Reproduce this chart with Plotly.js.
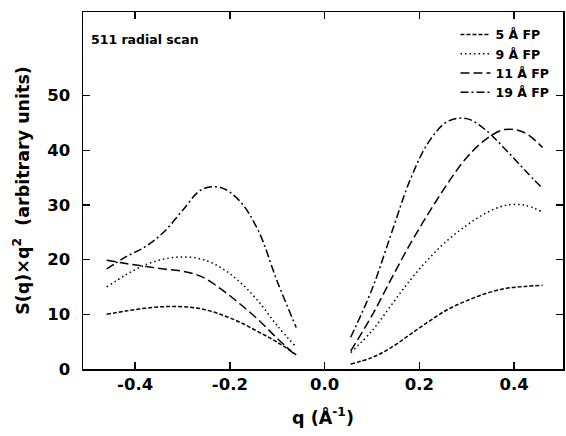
<!DOCTYPE html>
<html>
<head>
<meta charset="utf-8">
<script src="https://cdn.plot.ly/plotly-3.0.1.min.js"></script>
<style>html,body{margin:0;padding:0;background:#fff;}#chart{width:566px;height:436px;}</style>
</head>
<body>
<div id="chart"></div>
<script>
// q values (Å^-1); null separates the negative and positive branches
const qValues = [-0.46, -0.42, -0.38, -0.34, -0.30, -0.26, -0.22, -0.18, -0.14, -0.10, -0.06,
                 null,
                 0.055, 0.10, 0.14, 0.18, 0.22, 0.26, 0.30, 0.34, 0.38, 0.42, 0.46];

const fp5  = [10.0, 10.6, 11.1, 11.4, 11.4, 11.0, 10.0, 8.6, 6.8, 4.9, 2.6,
              null,
              0.9, 2.1, 3.9, 6.3, 8.7, 10.9, 12.5, 13.8, 14.7, 15.1, 15.3];
const fp9  = [15.0, 17.2, 19.0, 20.1, 20.5, 20.1, 18.6, 16.0, 12.4, 7.9, 4.0,
              null,
              3.0, 7.0, 11.6, 16.2, 20.2, 23.6, 26.3, 28.5, 29.9, 30.0, 28.7];
const fp11 = [19.9, 19.3, 18.8, 18.3, 17.9, 16.9, 14.7, 12.0, 9.0, 5.6, 2.4,
              null,
              3.3, 9.8, 16.4, 22.8, 28.6, 34.0, 38.7, 42.0, 43.8, 43.3, 40.5];
const fp19 = [18.3, 20.5, 22.3, 25.0, 29.0, 32.8, 33.2, 30.8, 25.3, 16.0, 7.6,
              null,
              5.8, 14.6, 24.6, 34.5, 41.6, 45.3, 45.8, 43.7, 40.3, 36.6, 33.0];

const seriesNames = ['5 Å FP', '9 Å FP', '11 Å FP', '19 Å FP'];
const xTickVals = [-0.4, -0.2, 0.0, 0.2, 0.4];
const xTickText = ['-0.4', '-0.2', '0.0', '0.2', '0.4'];
const yTickVals = [0, 10, 20, 30, 40, 50];
const chartTitle = '511 radial scan';

const dashes = ['4px,2px', '1.5px,3px', '9px,4px', '8px,3px,2px,3px'];
const seriesData = [fp5, fp9, fp11, fp19];

const FONT = 'DejaVu Sans, Liberation Sans, Arial, sans-serif';

const traces = seriesData.map((ys, i) => ({
  x: qValues,
  y: ys,
  name: seriesNames[i],
  type: 'scatter',
  mode: 'lines',
  connectgaps: false,
  line: {color: '#000', width: 1.5, dash: dashes[i], shape: 'spline', smoothing: 1}
}));

const axisCommon = {
  showline: true, linecolor: '#000', linewidth: 1.5,
  mirror: 'ticks', ticks: 'inside', ticklen: 7, tickwidth: 1.5, tickcolor: '#000',
  showgrid: false, zeroline: false,
  tickfont: {family: FONT, size: 16.5, color: '#000', weight: 'bold'}
};

const layout = {
  width: 566, height: 436,
  margin: {l: 83, r: 3, t: 12, b: 67},
  paper_bgcolor: '#fff', plot_bgcolor: '#fff',
  showlegend: true,
  legend: {
    x: 0.776, y: 0.978, xanchor: 'left', yanchor: 'top',
    bgcolor: 'rgba(0,0,0,0)', borderwidth: 0,
    font: {family: FONT, size: 12.5, color: '#000', weight: 'bold'},
    tracegroupgap: 0
  },
  xaxis: Object.assign({}, axisCommon, {
    range: [-0.51, 0.503],
    tickmode: 'array', tickvals: xTickVals, ticktext: xTickText,
    title: {text: 'q (Å<sup>-1</sup>)', standoff: 18,
            font: {family: FONT, size: 17.5, color: '#000', weight: 'bold'}}
  }),
  yaxis: Object.assign({}, axisCommon, {
    range: [0, 65.3],
    tickmode: 'array', tickvals: yTickVals,
    ticklabelstandoff: 8,
    title: {text: 'S(q)×q<sup>2</sup>  (arbitrary units)', standoff: 13,
            font: {family: FONT, size: 17.5, color: '#000', weight: 'bold'}}
  }),
  annotations: [{
    text: chartTitle, xref: 'paper', yref: 'paper',
    x: 0.0125, y: 0.922, xanchor: 'left', yanchor: 'middle', showarrow: false,
    font: {family: FONT, size: 12.5, color: '#000', weight: 'bold'}
  }]
};

Plotly.newPlot('chart', traces, layout, {displayModeBar: false, staticPlot: true});
</script>
</body>
</html>
